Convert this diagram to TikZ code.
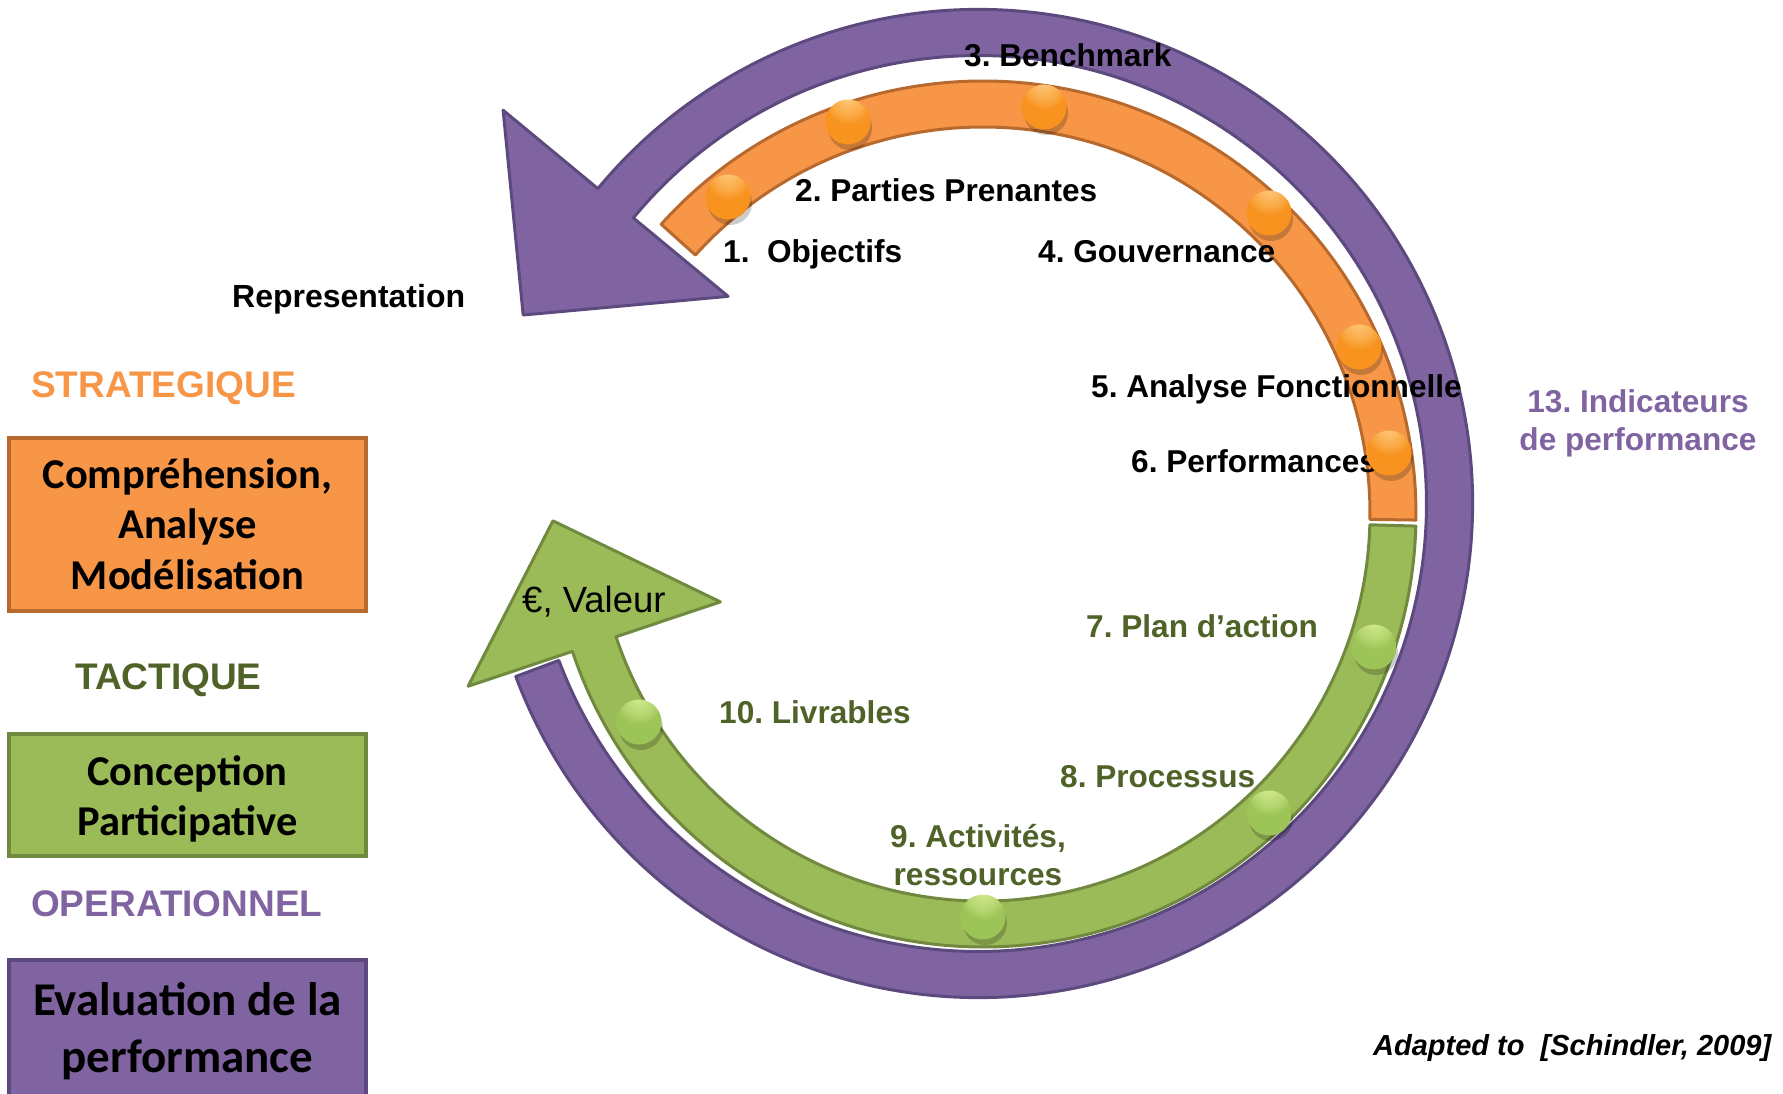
\documentclass[tikz,border=0pt]{standalone}
\usepackage{fontspec}
\setmainfont{Liberation Sans}
\newfontfamily\carlitofont{Carlito}
\usetikzlibrary{calc}
\definecolor{purp}{HTML}{8064A2}
\definecolor{purpd}{HTML}{5C4A7E}
\definecolor{oran}{HTML}{F79646}
\definecolor{orand}{HTML}{B7692E}
\definecolor{gree}{HTML}{9BBB59}
\definecolor{greed}{HTML}{71893F}
\definecolor{gtext}{HTML}{4F6228}
\definecolor{ballOhi}{HTML}{FFCB80}
\definecolor{ballOmid}{HTML}{F7931E}
\definecolor{ballOdk}{HTML}{B05C18}
\definecolor{ballGhi}{HTML}{D6EE94}
\definecolor{ballGmid}{HTML}{9DC456}
\definecolor{ballGdk}{HTML}{5C7F2E}
\pgfdeclareradialshading{oballshade}{\pgfpoint{0bp}{30bp}}{color(0bp)=(ballOhi); color(18bp)=(ballOhi!40!ballOmid); color(26bp)=(ballOmid); color(58bp)=(ballOmid); color(78bp)=(ballOdk); color(110bp)=(ballOdk)}
\pgfdeclareradialshading{gballshade}{\pgfpoint{0bp}{30bp}}{color(0bp)=(ballGhi); color(18bp)=(ballGhi!40!ballGmid); color(26bp)=(ballGmid); color(58bp)=(ballGmid); color(78bp)=(ballGdk); color(110bp)=(ballGdk)}
\frenchspacing
\begin{document}
\begin{tikzpicture}[x=1pt,y=-1pt,
  band/.style={line width=3, line join=round},
  purpleband/.style={band, fill=purp, draw=purpd},
  orangeband/.style={band, fill=oran, draw=orand},
  greenband/.style={band, fill=gree, draw=greed},
  ballO/.style={circle, minimum size=45, inner sep=0, shade, shading=oballshade},
  ballG/.style={circle, minimum size=45, inner sep=0, shade, shading=gballshade},
  lbl/.style={font=\bfseries\fontsize{31.6}{38}\selectfont, inner sep=0, anchor=base west},
  lblc/.style={lbl, anchor=base},
  level/.style={font=\bfseries\fontsize{37}{44}\selectfont, inner sep=0, anchor=base west},
  levelbox/.style={line width=4, minimum width=357, inner sep=0},
  boxtxt/.style={font=\carlitofont\bfseries\fontsize{42.5}{50}\selectfont, inner sep=0, anchor=base},
  bigboxtxt/.style={font=\carlitofont\bfseries\fontsize{47}{56}\selectfont, inner sep=0, anchor=base}
]
\useasboundingbox (0,0) rectangle (1783,1094);
\fill[white] (0,0) rectangle (1783,1094);
\coordinate (P) at (978.5,503.5);
\coordinate (O) at (983,514);

% purple ring with arrow head
\path[purpleband] ($(P)+(159.5:494)$) arc[start angle=159.5, end angle=-140.4, radius=494]
  -- ($(P)+(-140.4:617)$) -- ($(P)+(-140.4:471)+(129.6:145)$) -- ($(P)+(-140.4:325)$)
  -- ($(P)+(-140.4:448)$) arc[start angle=-140.4, end angle=159.5, radius=448] -- cycle;

% orange band
\path[orangeband] ($(O)+(-138:433)$) arc[start angle=-138, end angle=0.8, radius=433]
  -- ($(O)+(0.8:387)$) arc[start angle=0.8, end angle=-138, radius=387] -- cycle;

% green band with arrow head
\path[greenband] ($(O)+(1.6:433)$) arc[start angle=1.6, end angle=161.5, radius=433]
  -- ($(O)+(161.5:543)$) -- ($(O)+(161.5:410)+(251.5:130)$) -- ($(O)+(161.5:277)$)
  -- ($(O)+(161.5:387)$) arc[start angle=161.5, end angle=1.6, radius=387] -- cycle;

% left column
\node[level, text=oran] (strat) at (31,397) {STRATEGIQUE};
\node[levelbox, draw=orand, fill=oran, minimum height=173] (boxS) at (187.5,524.5) {};
\node[boxtxt] (s1) at (187.5,488) {Compréhension,};
\node[boxtxt] (s2) at (187.5,538.5) {Analyse};
\node[boxtxt] (s3) at (187.5,589) {Modélisation};

\node[level, text=gtext] (tact) at (75,689) {TACTIQUE};
\node[levelbox, draw=greed, fill=gree, minimum height=122.5] (boxT) at (187.5,794.75) {};
\node[boxtxt] (t1) at (187.5,785) {Conception};
\node[boxtxt] (t2) at (187.5,835.5) {Participative};

\node[level, text=purp] (oper) at (31,916) {OPERATIONNEL};
\node[levelbox, draw=purpd, fill=purp, minimum height=150] (boxO) at (187.5,1035) {};
\node[bigboxtxt] (o1) at (187.5,1015.5) {Evaluation de la};
\node[bigboxtxt] (o2) at (187.5,1072.5) {performance};

\node[lbl, font=\bfseries\fontsize{32}{38}\selectfont] (repr) at (232,307) {Representation};

% step labels
\node[lbl] (l1) at (723,262) {1.~~Objectifs};
\node[lbl] (l2) at (795,202) {2. Parties Prenantes};
\node[lbl] (l3) at (964,67) {3. Benchmark};
\node[lbl] (l4) at (1038,262) {4. Gouvernance};
\node[lbl] (l5) at (1091,397) {5. Analyse Fonctionnelle};
\node[lbl] (l6) at (1131,472) {6. Performances};
\node[lbl, text=gtext] (l7) at (1086,637) {7. Plan d’action};
\node[lbl, text=gtext] (l8) at (1060,787) {8. Processus};
\node[lblc, text=gtext] (l9a) at (978,847) {9. Activités,};
\node[lblc, text=gtext] (l9b) at (978,885) {ressources};
\node[lbl, text=gtext] (l10) at (719,723) {10. Livrables};
\node[lblc, text=purp] (l13a) at (1638,412) {13. Indicateurs};
\node[lblc, text=purp] (l13b) at (1638,450) {de performance};
\node[inner sep=0, anchor=base west, font=\fontsize{36.5}{44}\selectfont] (val) at (522,612) {€, Valeur};
\node[inner sep=0, anchor=base west, font=\bfseries\itshape\fontsize{29}{35}\selectfont] (src) at (1373,1055) {Adapted to\ \ [Schindler, 2009]};

% balls
\foreach \n/\x/\y in {1/728/197, 2/848/122, 3/1044/107, 4/1269/213, 5/1359/347, 6/1389/453}{
  \fill[black, opacity=0.2] (\x+2,\y+6) circle[radius=22];
  \node[ballO] (ob\n) at (\x,\y) {};
}
\foreach \n/\x/\y in {7/1374/647, 8/1269/813, 9/983/917, 10/639/722}{
  \fill[black, opacity=0.2] (\x+2,\y+6) circle[radius=22];
  \node[ballG] (gb\n) at (\x,\y) {};
}
\end{tikzpicture}
\end{document}
